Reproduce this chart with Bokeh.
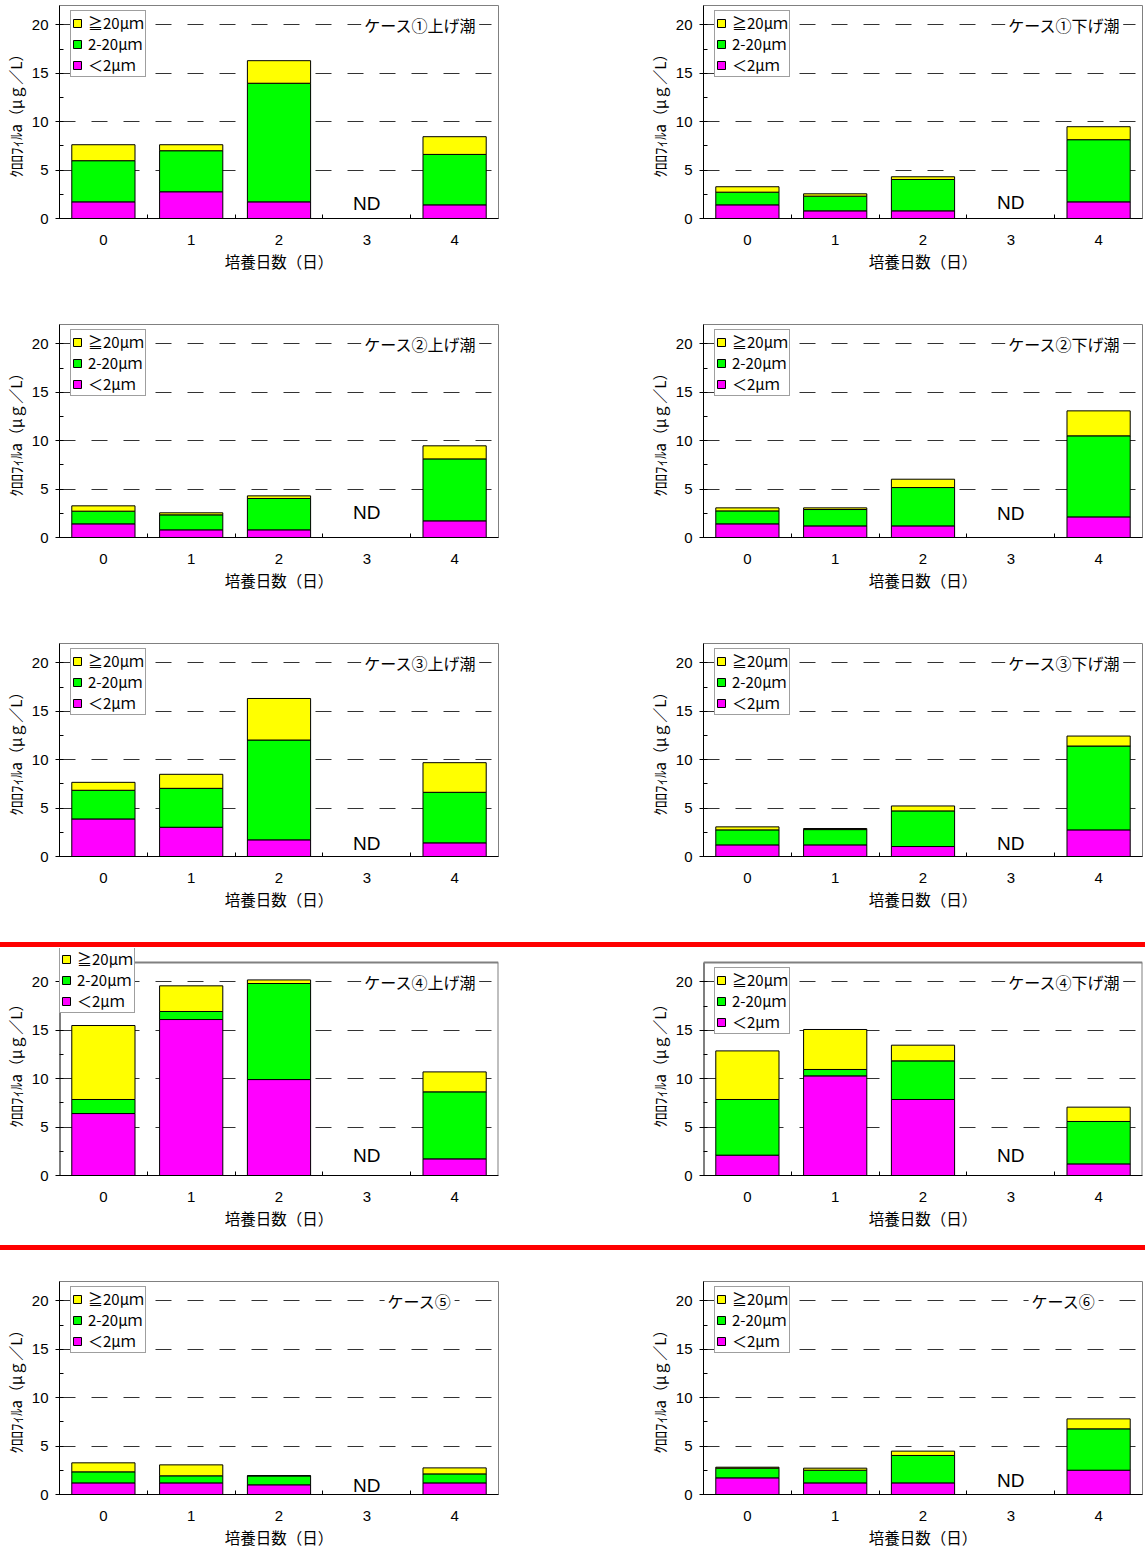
from bokeh.plotting import figure
from bokeh.models import FixedTicker, Legend, LegendItem, Label, Range1d, Div, ColumnDataSource
from bokeh.layouts import column, row
from bokeh.embed import file_html
from bokeh.resources import INLINE

# ---------------- data ----------------
day_ticks = [0, 1, 2, 3, 4]
days = [0, 1, 2, 4]          # day 3 = ND (no data)
series_labels = ["≧20μｍ", "2-20μｍ", "＜2μｍ"]
x_label = "培養日数（日）"
y_label = "ｸﾛﾛﾌｨﾙa（μｇ／L）"

titles = ["ケース①上げ潮", "ケース①下げ潮", "ケース②上げ潮", "ケース②下げ潮",
          "ケース③上げ潮", "ケース③下げ潮", "ケース④上げ潮", "ケース④下げ潮",
          "ケース⑤", "ケース⑥"]

c1u_lt2 = [1.72, 2.76, 1.72, 1.41]
c1u_mid = [4.25, 4.24, 12.25, 5.21]
c1u_ge20 = [1.65, 0.62, 2.33, 1.83]

c1d_lt2 = [1.41, 0.79, 0.79, 1.72]
c1d_mid = [1.31, 1.52, 3.24, 6.42]
c1d_ge20 = [0.56, 0.24, 0.28, 1.34]

c2u_lt2 = [1.41, 0.79, 0.79, 1.72]
c2u_mid = [1.31, 1.55, 3.24, 6.40]
c2u_ge20 = [0.55, 0.21, 0.27, 1.35]

c2d_lt2 = [1.41, 1.20, 1.20, 2.13]
c2d_mid = [1.34, 1.69, 3.96, 8.37]
c2d_ge20 = [0.31, 0.17, 0.86, 2.58]

c3u_lt2 = [3.88, 3.02, 1.72, 1.41]
c3u_mid = [2.96, 4.02, 10.31, 5.22]
c3u_ge20 = [0.82, 1.45, 4.29, 3.06]

c3d_lt2 = [1.20, 1.20, 1.03, 2.75]
c3d_mid = [1.55, 1.58, 3.68, 8.66]
c3d_ge20 = [0.31, 0.11, 0.51, 1.03]

c4u_lt2 = [6.40, 16.11, 9.91, 1.72]
c4u_mid = [1.45, 0.83, 9.92, 6.92]
c4u_ge20 = [7.64, 2.65, 0.37, 2.06]

c4d_lt2 = [2.10, 10.29, 7.85, 1.20]
c4d_mid = [5.75, 0.66, 3.99, 4.38]
c4d_ge20 = [5.02, 4.13, 1.62, 1.48]

c5_lt2 = [1.20, 1.20, 1.00, 1.20]
c5_mid = [1.14, 0.73, 0.93, 0.93]
c5_ge20 = [0.93, 1.13, 0.00, 0.62]

c6_lt2 = [1.72, 1.20, 1.20, 2.51]
c6_mid = [1.00, 1.31, 2.83, 4.27]
c6_ge20 = [0.10, 0.21, 0.45, 1.03]

panel_data = [
    (c1u_lt2, c1u_mid, c1u_ge20), (c1d_lt2, c1d_mid, c1d_ge20),
    (c2u_lt2, c2u_mid, c2u_ge20), (c2d_lt2, c2d_mid, c2d_ge20),
    (c3u_lt2, c3u_mid, c3u_ge20), (c3d_lt2, c3d_mid, c3d_ge20),
    (c4u_lt2, c4u_mid, c4u_ge20), (c4d_lt2, c4d_mid, c4d_ge20),
    (c5_lt2, c5_mid, c5_ge20), (c6_lt2, c6_mid, c6_ge20),
]

# ---------------- layout / style ----------------
nd_y = [1.52, 1.62, 2.55, 2.51, 1.31, 1.31, 2.1, 2.1, 0.93, 1.45]
title_x = [4.28] * 8 + [4.0, 4.0]
row_heights = [314, 319, 309, 298, 301]
row_mbt = [5, 10, 10, 15, 31]
row_mbb = [96, 96, 86, 70, 57]
MBL = 59
FRAME_W = 439
FRAME_H = 213
Y_MAX = 22.0
LEG_H = 65
LEG_RAISE = 14   # legend of case 4 (rising tide) sticks out above the frame
colors = ["#FF00FF", "#00FF00", "#FFFF00"]
JP = "Noto Sans CJK JP"
NUM = "Liberation Sans"


def make_panel(i):
    r = i // 2
    left = (i % 2 == 0)
    mbr = 146 if left else 3
    width = MBL + FRAME_W + mbr
    raised = (r == 3)          # row of case 4: drawing area extended upward
    mbt = row_mbt[r] - (LEG_RAISE if raised else 0)
    y_top = Y_MAX * (FRAME_H + LEG_RAISE) / FRAME_H if raised else Y_MAX
    lt2, mid, ge20 = panel_data[i]
    src = ColumnDataSource(dict(day=days, lt2=lt2, mid=mid, ge20=ge20))
    p = figure(width=width, height=row_heights[r], x_range=Range1d(-0.5, 4.5),
               y_range=Range1d(0, y_top), output_backend="svg", toolbar_location=None,
               min_border_left=MBL, min_border_right=mbr,
               min_border_top=mbt, min_border_bottom=row_mbb[r])
    p.background_fill_color = "white"
    p.border_fill_color = "white"

    p.xgrid.visible = False
    p.ygrid.ticker = FixedTicker(ticks=[5, 10, 15, 20])
    p.ygrid.grid_line_color = "#333333"
    p.ygrid.grid_line_dash = "16 16"
    p.ygrid.grid_line_width = 1

    rs = p.vbar_stack(["lt2", "mid", "ge20"], x="day", width=0.72, source=src,
                      fill_color=colors, line_color="black", line_width=1)

    xa = p.xaxis[0]
    xa.ticker = FixedTicker(ticks=day_ticks, minor_ticks=[0.5, 1.5, 2.5, 3.5])
    xa.major_tick_in = 0
    xa.major_tick_out = 0
    xa.minor_tick_in = 4
    xa.minor_tick_out = 0
    xa.axis_line_color = "black"
    xa.major_label_standoff = 16
    xa.major_label_text_font = NUM
    xa.major_label_text_font_size = "15px"
    xa.major_label_text_color = "black"
    xa.axis_label = x_label
    xa.axis_label_standoff = 2
    xa.axis_label_text_font = JP
    xa.axis_label_text_font_size = "15.5px"
    xa.axis_label_text_font_style = "normal"
    xa.axis_label_text_color = "black"

    ya = p.yaxis[0]
    ya.ticker = FixedTicker(ticks=[0, 5, 10, 15, 20], minor_ticks=[2.5, 7.5, 12.5, 17.5])
    ya.major_tick_in = 4
    ya.major_tick_out = 4
    ya.minor_tick_in = 4
    ya.minor_tick_out = 0
    ya.axis_line_color = "black"
    ya.major_label_standoff = 7
    ya.major_label_text_font = NUM
    ya.major_label_text_font_size = "15px"
    ya.major_label_text_color = "black"
    ya.axis_label = y_label
    ya.axis_label_standoff = 3
    ya.axis_label_text_font = JP
    ya.axis_label_text_font_size = "15px"
    ya.axis_label_text_font_style = "normal"
    ya.axis_label_text_color = "black"

    if raised:
        # frame box drawn up to y = 22 only; the strip above is left open
        p.outline_line_color = None
        ya.axis_line_color = None
        p.segment(x0=[-0.5, -0.5, 4.5], y0=[0, Y_MAX, 0],
                  x1=[-0.5, 4.5, 4.5], y1=[Y_MAX, Y_MAX, Y_MAX],
                  line_color=["black", "#808080", "#808080"], line_width=2)
    else:
        p.outline_line_color = "#808080"

    if i == 6:
        loc = (0, FRAME_H + LEG_RAISE - LEG_H)
    else:
        loc = (11, FRAME_H - 7 - LEG_H)
    legend = Legend(items=[LegendItem(label=series_labels[0], renderers=[rs[2]]),
                           LegendItem(label=series_labels[1], renderers=[rs[1]]),
                           LegendItem(label=series_labels[2], renderers=[rs[0]])],
                    location=loc, margin=0, padding=1, spacing=0,
                    glyph_width=10, glyph_height=10, label_height=19,
                    label_standoff=6, label_text_font=JP, label_text_font_size="15px",
                    label_text_color="black", border_line_color="#404040",
                    background_fill_color="white", background_fill_alpha=1.0)
    p.add_layout(legend)

    p.add_layout(Label(x=title_x[i], y=20, text=titles[i], text_align="right",
                       text_baseline="middle", text_font=JP, text_font_size="16px",
                       text_color="black", background_fill_color="white",
                       background_fill_alpha=1.0, padding=3))
    p.add_layout(Label(x=3, y=nd_y[i], text="ND", text_align="center",
                       text_baseline="middle", text_font=NUM, text_font_size="19px",
                       text_color="black"))
    return p


panels = [make_panel(i) for i in range(10)]


def red_line():
    return Div(text="", width=1145, height=5,
               styles={"background-color": "#FF0000", "margin": "0", "padding": "0"})


layout = column(
    row(panels[0], panels[1]),
    row(panels[2], panels[3]),
    row(panels[4], panels[5]),
    red_line(),
    row(panels[6], panels[7]),
    red_line(),
    row(panels[8], panels[9]),
)

open("out.html", "w").write(file_html(layout, INLINE))
